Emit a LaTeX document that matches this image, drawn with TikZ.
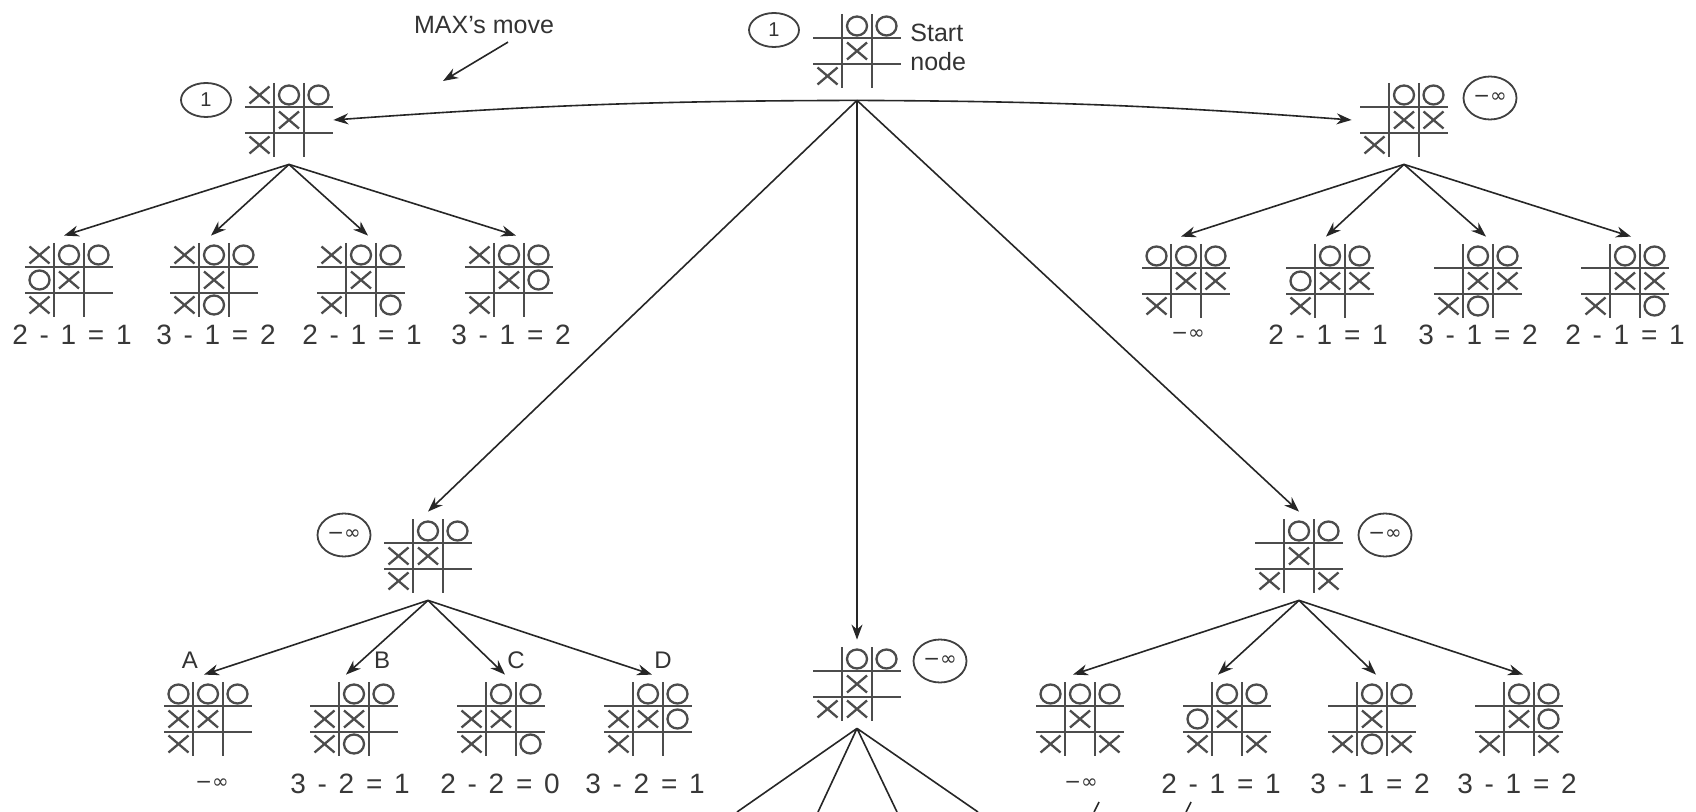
\documentclass[tikz,border=0pt]{standalone}
\usepackage{fontspec}
\setmainfont{Liberation Sans}
\newfontfamily\djv{DejaVu Sans}
\usetikzlibrary{arrows.meta,shapes.geometric}

\tikzset{
  brd/.style={minimum width=44pt, minimum height=44pt, inner sep=0pt},
  gl/.style={line width=1.25pt, draw=black!70},
  sym/.style={line width=1.15pt, draw=black!70},
  arr/.style={draw=black!85, line width=0.8pt, -{Stealth[length=7.5pt,width=5.5pt]}},
  fan/.style={draw=black!85, line width=0.8pt},
  oval/.style={ellipse, draw=black!75, line width=0.9pt, inner sep=0pt,
    minimum width=25pt, minimum height=17pt, text=black!80,
    font=\fontsize{10}{10}\selectfont},
  ovalinf/.style={oval, minimum width=26.5pt, minimum height=21.5pt},
  val/.style={inner sep=0pt, text=black!78, font=\fontsize{14}{14}\selectfont},
  lbl/.style={inner sep=0pt, text=black!80, font=\fontsize{12.5}{14.5}\selectfont},
}

\newcommand\inff{{\djv\fontsize{10}{10}\selectfont −∞}}
\newcommand\ev[3]{#1\hspace{.42em}-\hspace{.42em}#2\hspace{.42em}=\hspace{.42em}#3}
\newcommand\Xc[2]{\draw[sym] ({#1*29.5-10},{#2*25-8.5}) -- ({#1*29.5+10},{#2*25+8.5})
  ({#1*29.5-10},{#2*25+8.5}) -- ({#1*29.5+10},{#2*25-8.5});}
\newcommand\Oc[2]{\draw[sym] ({#1*29.5},{#2*25}) ellipse [x radius=5pt, y radius=4.75pt];}
\newcommand\board[3]{%
  \node[brd] (#1) at (#2) {};
  \begin{scope}[shift={(#2)}]
    \draw[gl] (-44,-13) -- (44,-13) (-44,13) -- (44,13)
              (-15,-37) -- (-15,37) (15,-37) -- (15,37);
    #3
  \end{scope}}

\begin{document}
\begin{tikzpicture}[x=0.5pt,y=-0.5pt]
\fill[white] (0,0) rectangle (1696,812);
\useasboundingbox (0,0) rectangle (1696,812);

% ---- root ----
\board{S}{857,51}{\Oc{0}{-1}\Oc{1}{-1}\Xc{0}{0}\Xc{-1}{1}}
\coordinate (Sa) at ([yshift=-2.5pt]S.south);
\node[oval] (cS) at (774,30) {1};
\node[lbl, anchor=west, align=left] (tS) at (910,47) {Start\\node};

\node[lbl] (mx) at (484,25) {MAX's move};
\coordinate (mxe) at (443,81);
\draw[arr] ([xshift=12pt,yshift=-4pt]mx.south) -- (mxe);

% ---- level 1 ----
\board{L}{289,120}{\Xc{-1}{-1}\Oc{0}{-1}\Oc{1}{-1}\Xc{0}{0}\Xc{-1}{1}}
\node[oval] (cL) at (206,100) {1};
\board{R}{1404,120}{\Oc{0}{-1}\Oc{1}{-1}\Xc{0}{0}\Xc{1}{0}\Xc{-1}{1}}
\node[ovalinf] (cR) at (1490,98) {\inff};

\draw[arr] (Sa) to[bend right=2] (L.east);
\draw[arr] (Sa) to[bend left=2] ([xshift=-4pt]R.west);

% ---- level 2 left ----
\board{La}{69,280}{\Xc{-1}{-1}\Oc{0}{-1}\Oc{1}{-1}\Oc{-1}{0}\Xc{0}{0}\Xc{-1}{1}}
\board{Lb}{214,280}{\Xc{-1}{-1}\Oc{0}{-1}\Oc{1}{-1}\Xc{0}{0}\Xc{-1}{1}\Oc{0}{1}}
\board{Lc}{361,280}{\Xc{-1}{-1}\Oc{0}{-1}\Oc{1}{-1}\Xc{0}{0}\Xc{-1}{1}\Oc{1}{1}}
\board{Ld}{509,280}{\Xc{-1}{-1}\Oc{0}{-1}\Oc{1}{-1}\Xc{0}{0}\Oc{1}{0}\Xc{-1}{1}}
\node[val] (vLa) at (72,335) {\ev211};
\node[val] (vLb) at (216,335) {\ev312};
\node[val] (vLc) at (362,335) {\ev211};
\node[val] (vLd) at (511,335) {\ev312};
\draw[arr] (L.south) -- ([xshift=-2.5pt]La.north);
\draw[arr] (L.south) -- ([xshift=-1.5pt]Lb.north);
\draw[arr] (L.south) -- ([xshift=3.5pt]Lc.north);
\draw[arr] (L.south) -- ([xshift=3.5pt]Ld.north);

% ---- level 2 right ----
\board{Ra}{1186,281}{\Oc{-1}{-1}\Oc{0}{-1}\Oc{1}{-1}\Xc{0}{0}\Xc{1}{0}\Xc{-1}{1}}
\board{Rb}{1330,281}{\Oc{0}{-1}\Oc{1}{-1}\Oc{-1}{0}\Xc{0}{0}\Xc{1}{0}\Xc{-1}{1}}
\board{Rc}{1478,281}{\Oc{0}{-1}\Oc{1}{-1}\Xc{0}{0}\Xc{1}{0}\Xc{-1}{1}\Oc{0}{1}}
\board{Rd}{1625,281}{\Oc{0}{-1}\Oc{1}{-1}\Xc{0}{0}\Xc{1}{0}\Xc{-1}{1}\Oc{1}{1}}
\node[val] (vRa) at (1188,335) {\inff};
\node[val] (vRb) at (1328,335) {\ev211};
\node[val] (vRc) at (1478,335) {\ev312};
\node[val] (vRd) at (1625,335) {\ev211};
\draw[arr] (R.south) -- ([xshift=-2.5pt]Ra.north);
\draw[arr] (R.south) -- ([xshift=-2pt]Rb.north);
\draw[arr] (R.south) -- ([xshift=4pt]Rc.north);
\draw[arr] (R.south) -- ([xshift=3pt]Rd.north);

% ---- level 1.5 ----
\board{M1}{428,556}{\Oc{0}{-1}\Oc{1}{-1}\Xc{-1}{0}\Xc{0}{0}\Xc{-1}{1}}
\node[ovalinf] (cM1) at (344,535) {\inff};
\board{M2}{857,684}{\Oc{0}{-1}\Oc{1}{-1}\Xc{0}{0}\Xc{-1}{1}\Xc{0}{1}}
\node[ovalinf] (cM2) at (940,661) {\inff};
\board{M3}{1299,556}{\Oc{0}{-1}\Oc{1}{-1}\Xc{0}{0}\Xc{-1}{1}\Xc{1}{1}}
\node[ovalinf] (cM3) at (1385,535) {\inff};
\draw[arr] (Sa) -- (M1.north);
\draw[arr] (Sa) -- (M2.north);
\draw[arr] (Sa) -- (M3.north);

% ---- level 3 left ----
\board{A}{208,719}{\Oc{-1}{-1}\Oc{0}{-1}\Oc{1}{-1}\Xc{-1}{0}\Xc{0}{0}\Xc{-1}{1}}
\board{B}{354,719}{\Oc{0}{-1}\Oc{1}{-1}\Xc{-1}{0}\Xc{0}{0}\Xc{-1}{1}\Oc{0}{1}}
\board{C}{501,719}{\Oc{0}{-1}\Oc{1}{-1}\Xc{-1}{0}\Xc{0}{0}\Xc{-1}{1}\Oc{1}{1}}
\board{D}{648,719}{\Oc{0}{-1}\Oc{1}{-1}\Xc{-1}{0}\Xc{0}{0}\Oc{1}{0}\Xc{-1}{1}}
\node[lbl, font=\fontsize{12}{12}\selectfont] (tA) at (190,660) {A};
\node[lbl, font=\fontsize{12}{12}\selectfont] (tB) at (382,660) {B};
\node[lbl, font=\fontsize{12}{12}\selectfont] (tC) at (516,660) {C};
\node[lbl, font=\fontsize{12}{12}\selectfont] (tD) at (663,660) {D};
\node[val] (vA) at (212,784) {\inff};
\node[val] (vB) at (350,784) {\ev321};
\node[val] (vC) at (500,784) {\ev220};
\node[val] (vD) at (645,784) {\ev321};
\draw[arr] (M1.south) -- ([xshift=-2pt]A.north);
\draw[arr] (M1.south) -- ([xshift=-4pt]B.north);
\draw[arr] (M1.south) -- ([xshift=2pt]C.north);
\draw[arr] (M1.south) -- ([xshift=2pt]D.north);

% ---- level 3 right ----
\board{Q1}{1080,719}{\Oc{-1}{-1}\Oc{0}{-1}\Oc{1}{-1}\Xc{0}{0}\Xc{-1}{1}\Xc{1}{1}}
\board{Q2}{1227,719}{\Oc{0}{-1}\Oc{1}{-1}\Oc{-1}{0}\Xc{0}{0}\Xc{-1}{1}\Xc{1}{1}}
\board{Q3}{1372,719}{\Oc{0}{-1}\Oc{1}{-1}\Xc{0}{0}\Xc{-1}{1}\Oc{0}{1}\Xc{1}{1}}
\board{Q4}{1519,719}{\Oc{0}{-1}\Oc{1}{-1}\Xc{0}{0}\Oc{1}{0}\Xc{-1}{1}\Xc{1}{1}}
\node[val] (vQ1) at (1081,784) {\inff};
\node[val] (vQ2) at (1221,784) {\ev211};
\node[val] (vQ3) at (1370,784) {\ev312};
\node[val] (vQ4) at (1517,784) {\ev312};
\draw[arr] (M3.south) -- ([xshift=-3.5pt]Q1.north);
\draw[arr] (M3.south) -- ([xshift=-4.5pt]Q2.north);
\draw[arr] (M3.south) -- ([xshift=2pt]Q3.north);
\draw[arr] (M3.south) -- ([xshift=2pt]Q4.north);

% ---- fan below the centre node (cut off by the page edge) ----
\coordinate (f1) at (737,812);
\coordinate (f2) at (818,812);
\coordinate (f3) at (897,812);
\coordinate (f4) at (978,812);
\draw[fan] (M2.south) -- (f1) (M2.south) -- (f2) (M2.south) -- (f3) (M2.south) -- (f4);

% ---- two small marks at the bottom edge ----
\coordinate (k1a) at (1099,802); \coordinate (k1b) at (1094,812);
\coordinate (k2a) at (1191,802); \coordinate (k2b) at (1186,812);
\draw[fan] (k1a) -- (k1b) (k2a) -- (k2b);
\end{tikzpicture}
\end{document}
